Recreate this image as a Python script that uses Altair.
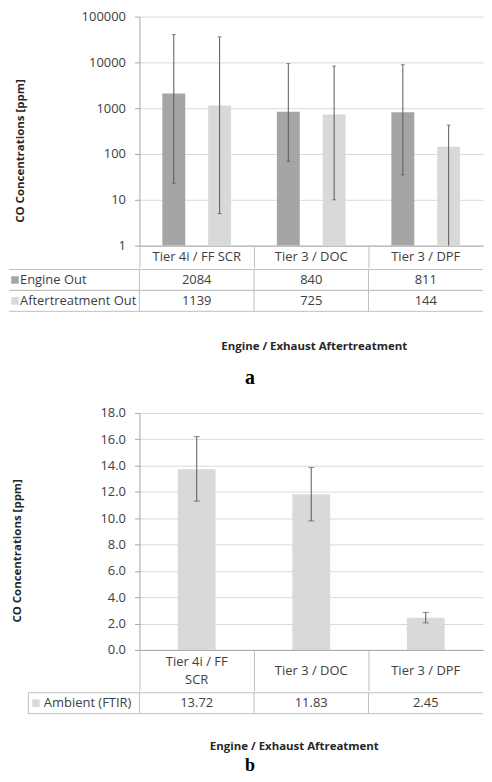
import altair as alt
import pandas as pd

# ---------------- data ----------------
categories = ["Tier 4i / FF SCR", "Tier 3 / DOC", "Tier 3 / DPF"]

# panel a (log scale)
series_a = ["Engine Out", "Aftertreatment Out"]
engine_out = [2084, 840, 811]
engine_out_lo = [23, 69, 35]
engine_out_hi = [40600, 9400, 8900]
after_out = [1139, 725, 144]
after_out_lo = [5, 10, 1]
after_out_hi = [36100, 8300, 427]
ticks_a = [1, 10, 100, 1000, 10000, 100000]

# panel b (linear scale)
series_b = ["Ambient (FTIR)"]
ambient = [13.72, 11.83, 2.45]
ambient_lo = [11.3, 9.8, 2.05]
ambient_hi = [16.2, 13.85, 2.85]
ticks_b = [0, 2, 4, 6, 8, 10, 12, 14, 16, 18]

colors_a = ["#a5a5a5", "#d9d9d9"]
colors_b = ["#d9d9d9"]

# ---------------- style ----------------
FONT = "Open Sans"
TXT = "#404040"
TTL = "#262626"
AX = "#a6a6a6"
GRID = "#d9d9d9"
LINE = "#bfbfbf"
ERR = "#595959"

rows_a = []
for s, vals, lo, hi in [(series_a[0], engine_out, engine_out_lo, engine_out_hi),
                        (series_a[1], after_out, after_out_lo, after_out_hi)]:
    for c, v, l, h in zip(categories, vals, lo, hi):
        rows_a.append(dict(cat=c, sa=s, value=v, lo=l, hi=h, label=str(v)))
dfa = pd.DataFrame(rows_a)
dfa_rows = pd.DataFrame({"sa": series_a})

rows_b = []
for c, v, l, h in zip(categories, ambient, ambient_lo, ambient_hi):
    rows_b.append(dict(cat=c, sb=series_b[0], value=v, lo=l, hi=h, label=f"{v:.2f}"))
dfb = pd.DataFrame(rows_b)
dfb_rows = pd.DataFrame({"sb": series_b})
df_cats = pd.DataFrame({"cat": categories})

# ================= panel a =================
WA, HA = 345, 230
xa_scale = alt.Scale(domain=categories, paddingInner=0, paddingOuter=0)
xa_axis = alt.Axis(title=None, labelAngle=0, bandPosition=0, labelAlign="center",
                   ticks=True, tickSize=22, tickColor=LINE, domainColor=AX,
                   labelPadding=-11, labelBaseline="middle", labelFont=FONT,
                   labelFontSize=13, labelColor=TXT, grid=False)
ya_scale = alt.Scale(type="log", domain=[1, 100000])
ya_axis = alt.Axis(values=ticks_a, format="d", title="CO Concentrations [ppm]",
                   titlePadding=56, titleY=134.5,
                   titleFont=FONT, titleFontSize=11.5, titleFontWeight="bold", titleColor=TTL,
                   labelFont=FONT, labelFontSize=13, labelColor=TXT, labelPadding=9,
                   tickSize=5, tickColor=AX, domainColor=AX, gridColor=GRID)
xoff_a = alt.XOffset("sa:N", scale=alt.Scale(domain=series_a, paddingInner=0.5, paddingOuter=0.5))
col_a = alt.Color("sa:N", scale=alt.Scale(domain=series_a, range=colors_a), legend=None)

base_a = alt.Chart(dfa)
bars_a = base_a.mark_bar().encode(
    x=alt.X("cat:N", scale=xa_scale, axis=xa_axis), xOffset=xoff_a,
    y=alt.Y("value:Q", scale=ya_scale, axis=ya_axis), y2=alt.datum(1), color=col_a)
err_a = base_a.mark_rule(color=ERR, strokeWidth=1).encode(
    x=alt.X("cat:N", scale=xa_scale, axis=xa_axis), xOffset=xoff_a,
    y=alt.Y("lo:Q", scale=ya_scale, axis=ya_axis), y2="hi:Q")
caph_a = base_a.mark_tick(orient="horizontal", size=4, thickness=1, color=ERR).encode(
    x=alt.X("cat:N", scale=xa_scale, axis=xa_axis), xOffset=xoff_a,
    y=alt.Y("hi:Q", scale=ya_scale, axis=ya_axis))
capl_a = base_a.transform_filter("datum.lo > 1").mark_tick(
    orient="horizontal", size=4, thickness=1, color=ERR).encode(
    x=alt.X("cat:N", scale=xa_scale, axis=xa_axis), xOffset=xoff_a,
    y=alt.Y("lo:Q", scale=ya_scale, axis=ya_axis))
plot_a = alt.layer(bars_a, err_a, caph_a, capl_a).properties(width=WA, height=HA)

HTA = 42
ta_x = alt.X("cat:N", scale=xa_scale, axis=None)
ta_yscale = alt.Scale(domain=series_a, paddingInner=0, paddingOuter=0)
ta_text = alt.Chart(dfa).mark_text(font=FONT, fontSize=13, color=TXT).encode(
    x=ta_x, y=alt.Y("sa:N", scale=ta_yscale, axis=None), text="label:N")
ta_vl = alt.Chart(df_cats).mark_rule(color=LINE).encode(
    x=alt.X("cat:N", scale=xa_scale, axis=None, bandPosition=0),
    y=alt.value(0), y2=alt.value(HTA))
ta_hdr = alt.Chart(dfa_rows).mark_text(font=FONT, fontSize=13, color=TXT, align="left").encode(
    x=alt.value(-120), y=alt.Y("sa:N", scale=ta_yscale, axis=None), text="sa:N")
ta_sw = alt.Chart(dfa_rows).mark_square(size=56, opacity=1).encode(
    x=alt.value(-125), y=alt.Y("sa:N", scale=ta_yscale, axis=None), color=col_a)
ta_top = alt.Chart(dfa_rows).mark_rule(color=LINE).encode(
    x=alt.value(-131), x2=alt.value(WA),
    y=alt.Y("sa:N", scale=ta_yscale, axis=None, bandPosition=0))
ta_bot = alt.Chart(dfa_rows).mark_rule(color=LINE).encode(
    x=alt.value(-131), x2=alt.value(WA),
    y=alt.Y("sa:N", scale=ta_yscale, axis=None, bandPosition=1))
table_a = alt.layer(ta_vl, ta_top, ta_bot, ta_text, ta_hdr, ta_sw).properties(
    width=WA, height=HTA,
    title=alt.TitleParams("Engine / Exhaust Aftertreatment", orient="bottom", offset=29,
                          font=FONT, fontSize=11.5, fontWeight="bold", color=TTL,
                          anchor="middle", frame="group", dx=3))

panel_a = alt.vconcat(plot_a, table_a, spacing=0).properties(
    title=alt.TitleParams("a", orient="bottom", font="Liberation Serif", fontSize=20,
                          color="#000000", anchor="middle", offset=15, dx=4))

# ================= panel b =================
WB, HB = 345, 238
xb_scale = alt.Scale(domain=categories, paddingInner=0, paddingOuter=0)
xb_axis = alt.Axis(title=None, labelAngle=0, bandPosition=0, labelAlign="center",
                   ticks=True, tickSize=41, tickColor=LINE, domainColor=AX,
                   labelPadding={"condition": {"test": "datum.value == 'Tier 4i / FF SCR'",
                                               "value": -29.5},
                                 "value": -20.5},
                   labelBaseline="middle", labelLineHeight=18,
                   labelExpr="datum.label == 'Tier 4i / FF SCR' ? ['Tier 4i / FF', 'SCR'] : datum.label",
                   labelFont=FONT, labelFontSize=13, labelColor=TXT, grid=False)
yb_scale = alt.Scale(domain=[0, 18])
yb_axis = alt.Axis(values=ticks_b, format=".1f", title="CO Concentrations [ppm]",
                   titlePadding=78, titleY=138,
                   titleFont=FONT, titleFontSize=11.5, titleFontWeight="bold", titleColor=TTL,
                   labelFont=FONT, labelFontSize=13, labelColor=TXT, labelPadding=9,
                   tickSize=5, tickColor=AX, domainColor=AX, gridColor=GRID)
col_b = alt.Color("sb:N", scale=alt.Scale(domain=series_b, range=colors_b), legend=None)

base_b = alt.Chart(dfb)
bars_b = base_b.mark_bar(width=alt.RelativeBandSize(0.33)).encode(
    x=alt.X("cat:N", scale=xb_scale, axis=xb_axis),
    y=alt.Y("value:Q", scale=yb_scale, axis=yb_axis), color=col_b)
err_b = base_b.mark_rule(color=ERR, strokeWidth=1).encode(
    x=alt.X("cat:N", scale=xb_scale, axis=xb_axis),
    y=alt.Y("lo:Q", scale=yb_scale, axis=yb_axis), y2="hi:Q")
caph_b = base_b.mark_tick(orient="horizontal", size=6, thickness=1, color=ERR).encode(
    x=alt.X("cat:N", scale=xb_scale, axis=xb_axis),
    y=alt.Y("hi:Q", scale=yb_scale, axis=yb_axis))
capl_b = base_b.mark_tick(orient="horizontal", size=6, thickness=1, color=ERR).encode(
    x=alt.X("cat:N", scale=xb_scale, axis=xb_axis),
    y=alt.Y("lo:Q", scale=yb_scale, axis=yb_axis))
plot_b = alt.layer(bars_b, err_b, caph_b, capl_b).properties(width=WB, height=HB)

HTB = 21
tb_x = alt.X("cat:N", scale=xb_scale, axis=None)
tb_yscale = alt.Scale(domain=series_b, paddingInner=0, paddingOuter=0)
tb_yaxis = alt.Axis(title=None, labels=False, ticks=False, grid=False, domain=True,
                    domainColor=LINE, offset=112)
tb_text = alt.Chart(dfb).mark_text(font=FONT, fontSize=13, color=TXT).encode(
    x=tb_x, y=alt.Y("sb:N", scale=tb_yscale, axis=tb_yaxis), text="label:N")
tb_vl = alt.Chart(df_cats).mark_rule(color=LINE).encode(
    x=alt.X("cat:N", scale=xb_scale, axis=None, bandPosition=0),
    y=alt.value(0), y2=alt.value(HTB))
tb_hdr = alt.Chart(dfb_rows).mark_text(font=FONT, fontSize=13, color=TXT, align="left").encode(
    x=alt.value(-96), y=alt.Y("sb:N", scale=tb_yscale, axis=tb_yaxis), text="sb:N")
tb_sw = alt.Chart(dfb_rows).mark_square(size=56, opacity=1).encode(
    x=alt.value(-104), y=alt.Y("sb:N", scale=tb_yscale, axis=tb_yaxis), color=col_b)
tb_top = alt.Chart(dfb_rows).mark_rule(color=LINE).encode(
    x=alt.value(-112), x2=alt.value(WB),
    y=alt.Y("sb:N", scale=tb_yscale, axis=tb_yaxis, bandPosition=0))
tb_bot = alt.Chart(dfb_rows).mark_rule(color=LINE).encode(
    x=alt.value(-112), x2=alt.value(WB),
    y=alt.Y("sb:N", scale=tb_yscale, axis=tb_yaxis, bandPosition=1))
# invisible guide keeping panel b's left margin equal to panel a's
tb_pad = alt.Chart(dfb_rows).mark_rule(color="transparent").encode(
    x=alt.value(-131), x2=alt.value(-112),
    y=alt.Y("sb:N", scale=tb_yscale, axis=tb_yaxis, bandPosition=0))
table_b = alt.layer(tb_pad, tb_vl, tb_top, tb_bot, tb_text, tb_hdr, tb_sw).properties(
    width=WB, height=HTB,
    title=alt.TitleParams("Engine / Exhaust Aftreatment", orient="bottom", offset=27,
                          font=FONT, fontSize=11.5, fontWeight="bold", color=TTL,
                          anchor="middle", frame="group", dx=-17))

panel_b = alt.vconcat(plot_b, table_b, spacing=0).properties(
    title=alt.TitleParams("b", orient="bottom", font="Liberation Serif", fontSize=18,
                          color="#000000", anchor="middle", offset=4, dx=4))

chart = alt.vconcat(panel_a, panel_b, spacing=18).properties(
    padding={"left": 0, "top": 0, "right": 0, "bottom": 0}
).resolve_scale(color="independent").configure_view(stroke="transparent")

chart.save("out.html", embed_options={"renderer": "svg", "actions": False})
